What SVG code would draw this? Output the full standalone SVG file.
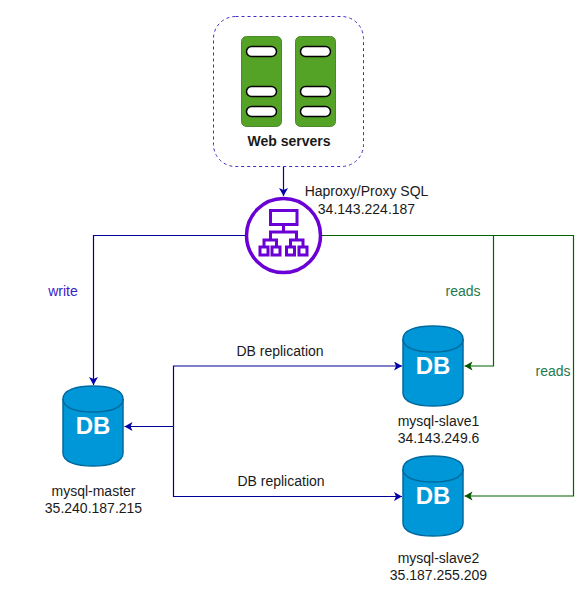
<svg xmlns="http://www.w3.org/2000/svg" width="583" height="589" viewBox="0 0 583 589">
<style>
text{font-family:"Liberation Sans",Arial,sans-serif;font-size:14px;fill:#1a1a1a;text-anchor:middle}
.db{font-size:24px;font-weight:bold;fill:#fff}
.srv{fill:#55a326;stroke:#4b8a2b;stroke-width:1}
.pill{fill:#fff;stroke:#000;stroke-width:1.500}
.cyl{fill:#0097d8;stroke:#006a9e;stroke-width:1.500}
.cap{fill:none;stroke:#006a9e;stroke-width:1.500}
.b{fill:none;stroke:#000099;stroke-width:1.200}
.g{fill:none;stroke:#006400;stroke-width:1.200}
.ic{fill:none;stroke:#6a00d5;stroke-width:3}
</style>
<defs>
<marker id="ab" markerUnits="userSpaceOnUse" markerWidth="10" markerHeight="10" refX="8" refY="4.500" orient="auto"><path d="M0 0L8 4.500L0 9L2 4.500Z" fill="#0000aa"/></marker>
<marker id="ag" markerUnits="userSpaceOnUse" markerWidth="10" markerHeight="10" refX="8" refY="4.500" orient="auto"><path d="M0 0L8 4.500L0 9L2 4.500Z" fill="#005700"/></marker>
<g id="cylshape">
<path class="cyl" d="M0 13C0 4 13 0 30 0C47 0 60 4 60 13V67C60 76 47 80 30 80C13 80 0 76 0 67Z"/>
<path class="cap" d="M0 13C0 22 13 26 30 26C47 26 60 22 60 13"/>
</g>
</defs>
<g id="connectors">
<path class="b" marker-end="url(#ab)" d="M283.500 166.500V196"/>
<path class="b" marker-end="url(#ab)" d="M246 235.500H93.500V385"/>
<path class="g" marker-end="url(#ag)" d="M321 235.500H493.500V366H464.500"/>
<path class="g" marker-end="url(#ag)" d="M493.500 235.500H573.500V496H464.500"/>
<path class="b" marker-end="url(#ab)" d="M173.500 426.500V366H402"/>
<path class="b" marker-end="url(#ab)" d="M173.500 426.500V496.500H402"/>
<path class="b" marker-end="url(#ab)" d="M173.500 426.500H124.500"/>
<text x="63" y="296" style="fill:#3a22c4">write</text>
<text x="463" y="296" style="fill:#1f7a4d">reads</text>
<text x="553" y="376" style="fill:#1f7a4d">reads</text>
<text x="280" y="356">DB replication</text>
<text x="281" y="486">DB replication</text>
</g>
<g id="web-servers">
<rect x="213.500" y="16.500" width="150" height="150" rx="22" fill="#fff" stroke="#3f2bc0" stroke-width="1" stroke-dasharray="3 3"/>
<rect class="srv" x="241.500" y="36.500" width="40" height="90" rx="5"/>
<rect class="srv" x="295.500" y="36.500" width="40" height="90" rx="5"/>
<rect class="pill" x="246.500" y="46.500" width="30" height="10" rx="5"/>
<rect class="pill" x="246.500" y="86.500" width="30" height="10" rx="5"/>
<rect class="pill" x="246.500" y="106.500" width="30" height="10" rx="5"/>
<rect class="pill" x="300.500" y="46.500" width="30" height="10" rx="5"/>
<rect class="pill" x="300.500" y="86.500" width="30" height="10" rx="5"/>
<rect class="pill" x="300.500" y="106.500" width="30" height="10" rx="5"/>
<text x="289" y="146" style="font-weight:bold">Web servers</text>
</g>
<g id="haproxy">
<circle cx="283.500" cy="235.500" r="37" fill="#fff" stroke="#6a00d5" stroke-width="3.500"/>
<rect class="ic" x="270.500" y="210.500" width="26.500" height="14"/>
<path class="ic" d="M283.500 224.500V232M270.500 240V232H296.500V240M264 247V240H276.500V247M290.500 247V240H303V247"/>
<rect class="ic" x="260" y="247" width="8" height="8"/>
<rect class="ic" x="272" y="247" width="8" height="8"/>
<rect class="ic" x="286.500" y="247" width="8" height="8"/>
<rect class="ic" x="299" y="247" width="8" height="8"/>
<text x="366.500" y="196">Haproxy/Proxy SQL</text>
<text x="366.500" y="214">34.143.224.187</text>
</g>
<g id="mysql-master">
<use href="#cylshape" x="63" y="386"/>
<text class="db" x="93" y="434">DB</text>
<text x="93.500" y="496">mysql-master</text>
<text x="93.500" y="513">35.240.187.215</text>
</g>
<g id="mysql-slave1">
<use href="#cylshape" x="403" y="326"/>
<text class="db" x="433" y="374">DB</text>
<text x="438.500" y="426">mysql-slave1</text>
<text x="438.500" y="443">34.143.249.6</text>
</g>
<g id="mysql-slave2">
<use href="#cylshape" x="403" y="456"/>
<text class="db" x="433" y="504">DB</text>
<text x="438.500" y="563">mysql-slave2</text>
<text x="438.500" y="580">35.187.255.209</text>
</g>
</svg>
